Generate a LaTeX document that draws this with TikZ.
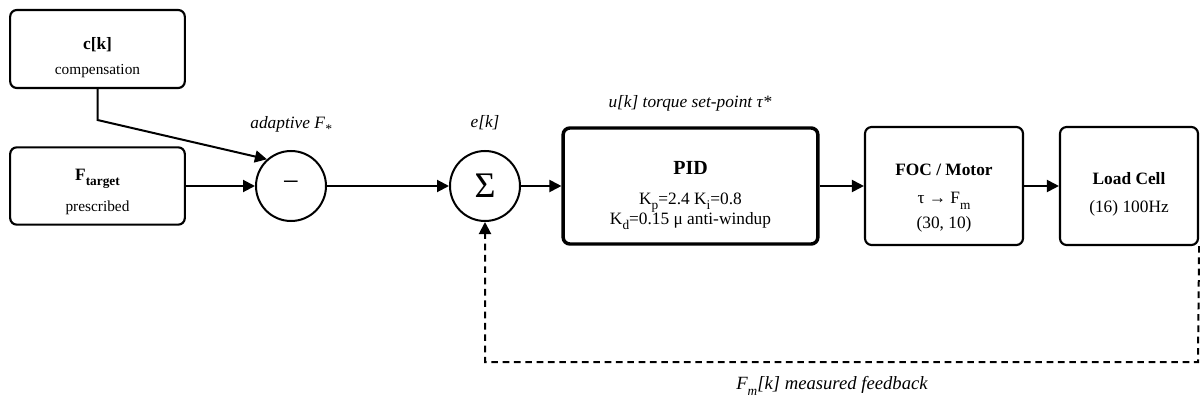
\documentclass[tikz,border=0pt]{standalone}
\usepackage{fontspec}
\setmainfont{Liberation Serif}
\usetikzlibrary{arrows.meta}

\newcommand{\lowsub}[1]{\raisebox{-4pt}{\fontsize{10}{10}\selectfont #1}}
\newcommand{\padtop}[1]{\rule{0pt}{#1}}

\tikzset{
  blk/.style={draw, line width=1.6pt, rounded corners=5pt, align=center, font=\fontsize{13}{15}\selectfont},
  smallblk/.style={blk, font=\fontsize{11.5}{14}\selectfont},
  pidblk/.style={blk, line width=2.6pt},
  junc/.style={draw, circle, line width=1.5pt, minimum size=52.5pt, inner sep=0pt, font=\fontsize{22}{22}\selectfont},
  lbl/.style={font=\fontsize{13}{15}\selectfont\itshape},
  arr/.style={line width=1.5pt, -{Triangle[length=9pt,width=9pt]}},
  fb/.style={arr, dash pattern=on 5pt off 3.5pt},
}

\begin{document}
\begin{tikzpicture}[x=0.75pt,y=-0.75pt]
\useasboundingbox (0,0) rectangle (1200,403);
% inputs
\node[smallblk, minimum width=131pt, minimum height=58.5pt] (ck) at (97.5,49)
  {\padtop{22pt}\fontsize{13}{15}\selectfont\textbf{c[k]}\\[4.75pt] compensation};
\node[smallblk, minimum width=131pt, minimum height=58pt] (ftarget) at (97.5,186)
  {\padtop{17pt}\fontsize{13}{15}\selectfont\textbf{F\lowsub{target}}\\[8pt] prescribed};
% summing junctions
\node[junc] (minus) at (291,186) {−};
\node[junc, font=\fontsize{27}{27}\selectfont] (sum) at (485,186) {Σ};
% forward path
\node[pidblk, minimum width=191pt, minimum height=87pt] (pid) at (690.5,186)
  {\padtop{24pt}{\fontsize{15}{15}\selectfont\textbf{PID}}\\[7.5pt]
   K\lowsub{p}=2.4 K\lowsub{i}=0.8\\[-0.75pt] K\lowsub{d}=0.15 μ anti-windup};
\node[blk, minimum width=118.5pt, minimum height=88.5pt] (foc) at (944,186)
  {\padtop{27pt}\textbf{FOC / Motor}\\[6.25pt] τ → F\lowsub{m}\\[3.75pt] (30, 10)};
\node[blk, minimum width=103.5pt, minimum height=88.5pt] (cell) at (1129,186)
  {\padtop{22pt}\textbf{Load Cell}\\[6.25pt] (16) 100Hz};
% signal labels
\node[lbl] (adapt) at (291,125) {adaptive F\lowsub{*}};
\node[lbl] (err) at (485,123) {e[k]};
\node[lbl] (ctrl) at (690,103) {u[k] torque set-point τ*};
\node[lbl, font=\fontsize{14}{16}\selectfont\itshape] (meas) at (832,386) {F\lowsub{m}[k] measured feedback};
% connectors
\coordinate (kink) at (97.5,120);
\coordinate (fbend) at (1198,362);
\draw[arr] (ck.south) -- (kink) -- (minus.132);
\draw[arr] (ftarget) -- (minus);
\draw[arr] (minus) -- (sum);
\draw[arr] (sum) -- (pid);
\draw[arr] (pid) -- (foc);
\draw[arr] (foc) -- (cell);
\draw[fb] (cell.south east) -- (fbend) -| (sum.south);
\end{tikzpicture}
\end{document}
